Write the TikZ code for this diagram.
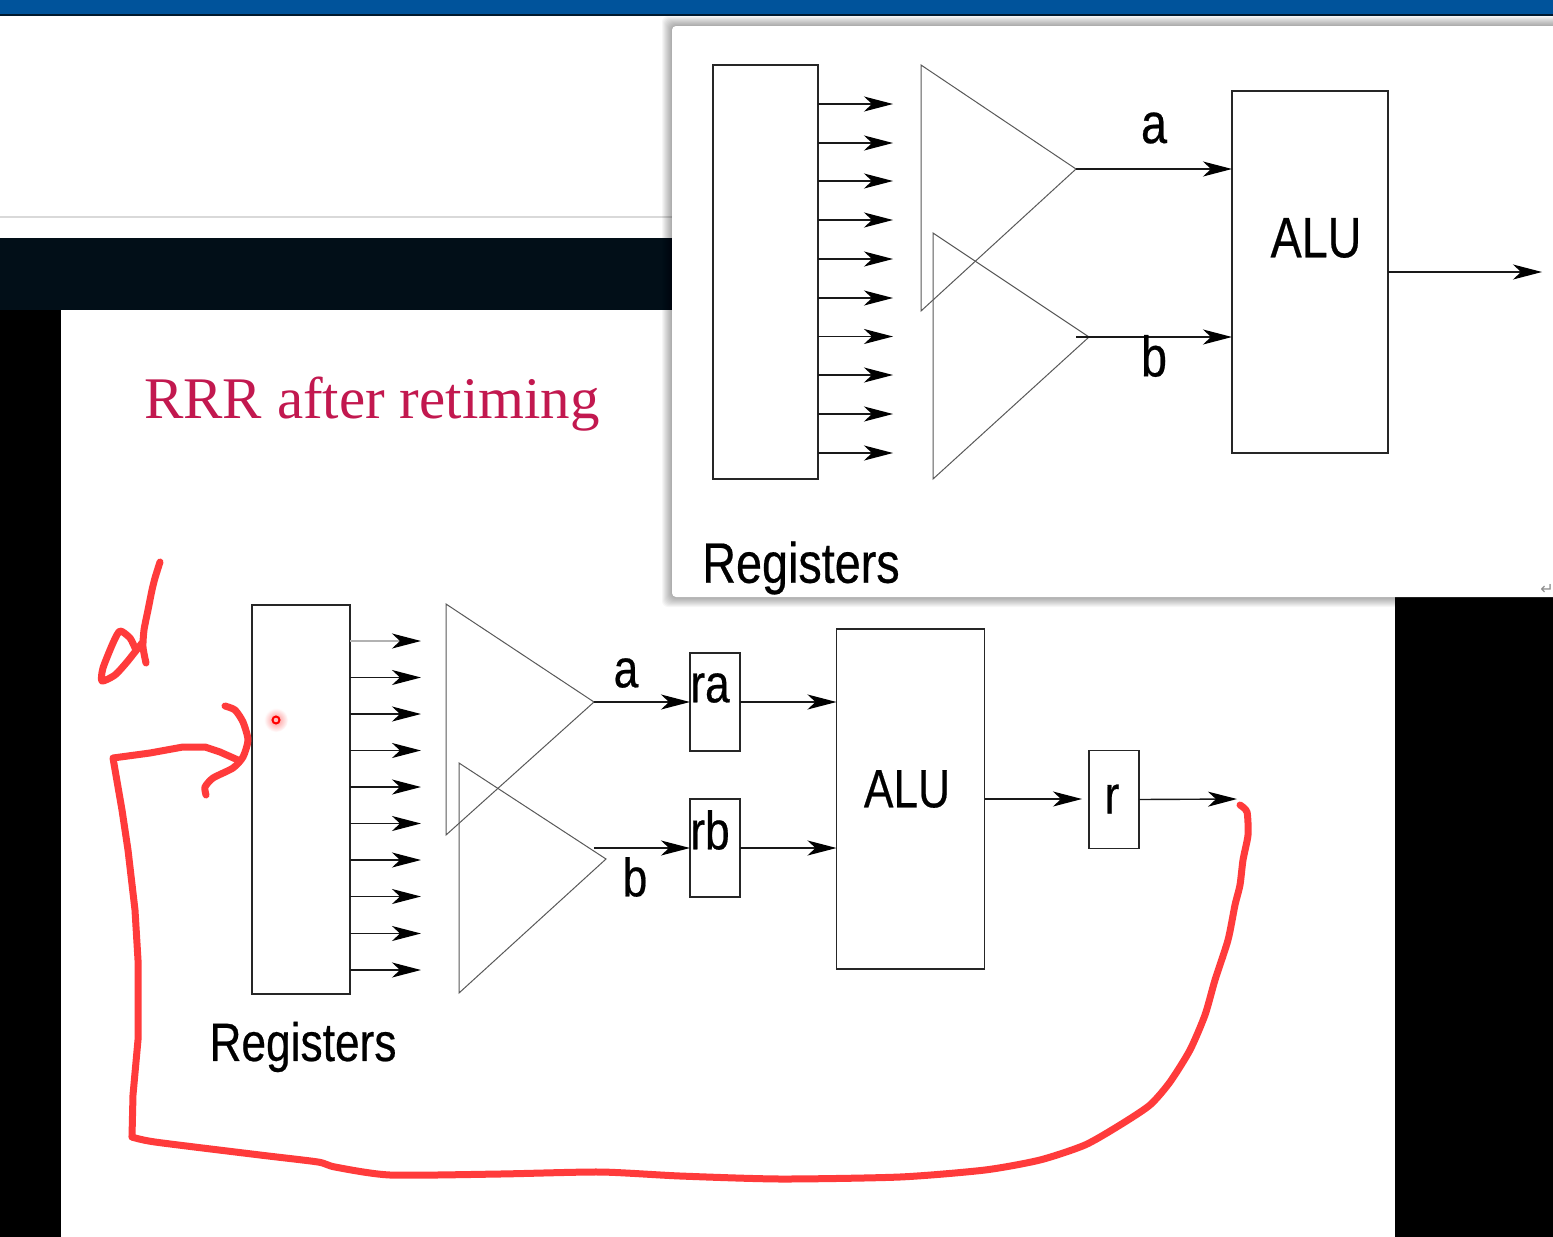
\documentclass[tikz,border=0pt]{standalone}
\usepackage{fontspec}
\setmainfont{Liberation Serif}
\newfontfamily\figfont[FakeStretch=0.82,FakeBold=0.4]{Liberation Sans}
\newfontfamily\symfont{DejaVu Sans}
\usetikzlibrary{arrows.meta,calc}
\definecolor{barblue}{HTML}{00539B}
\definecolor{darkband}{HTML}{020F18}
\definecolor{titlered}{HTML}{C2184F}
\definecolor{inkred}{HTML}{FF3B3B}
\begin{document}
\begin{tikzpicture}[x=1pt,y=-1pt,
box/.style={draw=black!85,line width=1.3pt,inner sep=0pt,outer sep=0pt},
wire/.style={draw=black!90,line width=1.4pt,-{Stealth[length=29pt,width=15pt,inset=8pt,black]}},
tri/.style={draw=black!65,line width=1pt,line join=miter},
lab/.style={font=\figfont\fontsize{57}{60}\selectfont,inner sep=0pt},
labs/.style={font=\figfont\fontsize{54}{58}\selectfont,inner sep=0pt},
ink/.style={draw=inkred,line width=7pt,line cap=round,line join=round}]
\useasboundingbox (0,0) rectangle (1553,1237);
\fill[white] (0,0) rectangle (1553,1237);
% window behind the popup
\fill[barblue] (0,0) rectangle (1553,15);
\fill[black!70!barblue] (0,14) rectangle (1553,16);
\draw[black!15,line width=1.5pt] (0,217) -- (672,217);
\fill[darkband] (0,238) rectangle (672,310);
\fill[black] (0,310) rectangle (61,1237);
\fill[black] (1395,597) rectangle (1553,1237);
\node[anchor=west,text=titlered,font=\fontsize{59}{62}\selectfont,inner sep=0pt] (slidetitle) at (144,404) {RRR after retiming};
% slide diagram
\node[box,minimum width=98pt,minimum height=389pt] (regB) at (301,799.5) {};
\foreach \i/\y/\c in {1/641/30,2/677.5/90,3/714/90,4/750.5/90,5/787/90,6/823.5/90,7/860/90,8/896.5/90,9/933.5/90,10/970/90}{
\coordinate (tipB\i) at (421,\y);
\draw[wire,draw=black!\c] (regB.east |- tipB\i) -- (tipB\i);}
\coordinate (triBa) at (594,702);\coordinate (triBb) at (606,859);
\draw[tri] (446,604) -- (triBa) -- (446,835) -- cycle;
\draw[tri] (459,763) -- (triBb) -- (459,993) -- cycle;
\node[box,minimum width=50pt,minimum height=98pt] (ra) at (715,702) {};
\node[box,minimum width=50pt,minimum height=98pt] (rb) at (715,848) {};
\node[box,minimum width=148pt,minimum height=340pt] (aluB) at (910.5,799) {};
\node[box,minimum width=50pt,minimum height=98pt] (rr) at (1114,799.5) {};
\coordinate (outB) at (1237,799);\coordinate (fromb) at (594,848);\coordinate (inr) at (1082,799);
\draw[wire] (triBa) -- (ra.west);
\draw[wire] (fromb) -- (ra.west |- fromb);
\draw[wire] (ra.east) -- (aluB.west |- ra.east);
\draw[wire] (rb.east) -- (aluB.west |- rb.east);
\draw[wire] (aluB.east |- inr) -- (inr);
\draw[wire] (rr.east) -- (outB);
\node[labs] (aB) at (626,673) {a};\node[labs] (bB) at (635,877) {b};
\node[labs] (raL) at (710,688) {ra};\node[labs] (rbL) at (710,830) {rb};
\node[labs] (rL) at (1112,799) {r};
\node[labs] (aluBL) at (907,789) {ALU};
\node[labs] (regBL) at (303,1047) {Registers};
% popup with its shadow
\foreach \k in {1,...,10}{\fill[black,opacity=.035,rounded corners=6pt] (672-\k,26-\k) rectangle (1600,597+\k);}
\fill[white,rounded corners=4pt] (672,26) rectangle (1600,597);
\node[box,minimum width=105pt,minimum height=414pt] (regA) at (765.5,272) {};
\foreach \i/\y in {1/104,2/143,3/181,4/220,5/259,6/298,7/336.5,8/375,9/414,10/453}{
\coordinate (tipA\i) at (893,\y);
\draw[wire] (regA.east |- tipA\i) -- (tipA\i);}
\coordinate (triAa) at (1076,169);\coordinate (triAb) at (1089,337);
\draw[tri] (921,65) -- (triAa) -- (921,311) -- cycle;
\draw[tri] (933,233) -- (triAb) -- (933,479) -- cycle;
\node[box,minimum width=156pt,minimum height=362pt] (aluA) at (1310,272) {};
\coordinate (outA) at (1542,272);\coordinate (fromB) at (1076,337);
\draw[wire] (triAa) -- (aluA.west |- triAa);
\draw[wire] (fromB) -- (aluA.west |- fromB);
\draw[wire] (aluA.east) -- (outA);
\node[lab] (aA) at (1154,128) {a};\node[lab] (bA) at (1154,356) {b};
\node[lab] (aluAL) at (1316,238) {ALU};
\node[lab] (regAL) at (801,568) {Registers};
\node[text=black!45,font=\symfont\fontsize{16}{16}\selectfont,inner sep=0pt] (retmark) at (1547,589) {↵};
% red pen strokes
\draw[ink] plot[smooth,tension=.4] coordinates {(160,562) (155,578) (152,590) (148,610) (144,630) (143,647) (146,663)};
\draw[ink] plot[smooth,tension=.4] coordinates {(142,643) (127,662) (115,675) (102,681) (103,668) (113,643) (120,631) (130,638) (135,648)};
\draw[ink] plot[smooth,tension=.4] coordinates {(225,706) (235,710) (243,722) (248,740) (243,757) (233,768) (213,778) (205,787) (206,795)};
\draw[ink] plot[smooth,tension=.4] coordinates {(1240,805) (1247,812) (1248,835) (1243,860) (1240,885) (1235,905) (1228,940) (1215,980) (1205,1015) (1190,1050) (1170,1082) (1150,1105) (1120,1125) (1085,1145) (1040,1160) (985,1170) (900,1177) (780,1179) (680,1176) (600,1172) (500,1174) (390,1175) (335,1167) (318,1162) (260,1155) (155,1142) (132,1137)};
\draw[ink] (132,1137) -- (133,1095) -- (138,1040) -- (138,960) -- (135,910) -- (128,850) -- (122,810) -- (113,758) -- (150,753) -- (183,747) -- (205,747) -- (220,752) -- (238,760);
% cursor
\shade[inner color=red!45,outer color=white] (276,720) circle (12);
\draw[red,fill=red!25,line width=2pt] (276,720) circle (3.5);
\end{tikzpicture}
\end{document}
